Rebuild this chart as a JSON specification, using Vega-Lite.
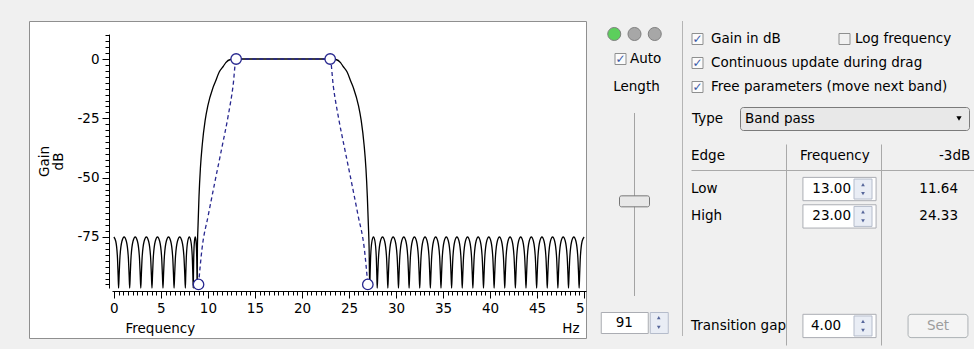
{
"$schema":"https://vega.github.io/schema/vega-lite/v6.json",
"background":"#f0f0f0",
"padding":{"left":28,"top":20,"right":1,"bottom":8},
"spacing":7,
"config":{
 "font":"DejaVu Sans",
 "view":{"stroke":null},
 "text":{"fontSize":13.5,"color":"#000000"},
 "axis":{"labelFontSize":13.5,"titleFontSize":13.5,"titleFontWeight":"normal","labelColor":"#000000","titleColor":"#000000","domainColor":"#000000","tickColor":"#000000","grid":false}
},
"datasets":{
 "response":[
  {"hz":0,"db":-75},{"hz":0.2,"db":-76.8},{"hz":0.38,"db":-83.7},{"hz":0.45,"db":-91.1},{"hz":0.5,"db":-120},
  {"hz":0.559,"db":-91.1},{"hz":0.642,"db":-83.7},{"hz":0.854,"db":-76.8},{"hz":1.09,"db":-75},{"hz":1.326,"db":-76.8},{"hz":1.538,"db":-83.7},{"hz":1.621,"db":-91.1},{"hz":1.68,"db":-120},
  {"hz":1.739,"db":-91.1},{"hz":1.822,"db":-83.7},{"hz":2.034,"db":-76.8},{"hz":2.27,"db":-75},{"hz":2.506,"db":-76.8},{"hz":2.718,"db":-83.7},{"hz":2.801,"db":-91.1},{"hz":2.86,"db":-120},
  {"hz":2.92,"db":-91.1},{"hz":3.003,"db":-83.7},{"hz":3.217,"db":-76.8},{"hz":3.455,"db":-75},{"hz":3.693,"db":-76.8},{"hz":3.907,"db":-83.7},{"hz":3.99,"db":-91.1},{"hz":4.05,"db":-120},
  {"hz":4.109,"db":-91.1},{"hz":4.19,"db":-83.7},{"hz":4.401,"db":-76.8},{"hz":4.635,"db":-75},{"hz":4.869,"db":-76.8},{"hz":5.08,"db":-83.7},{"hz":5.162,"db":-91.1},{"hz":5.22,"db":-120},
  {"hz":5.279,"db":-91.1},{"hz":5.362,"db":-83.7},{"hz":5.574,"db":-76.8},{"hz":5.81,"db":-75},{"hz":6.046,"db":-76.8},{"hz":6.258,"db":-83.7},{"hz":6.341,"db":-91.1},{"hz":6.4,"db":-120},
  {"hz":6.46,"db":-91.1},{"hz":6.544,"db":-83.7},{"hz":6.76,"db":-76.8},{"hz":7.0,"db":-75},{"hz":7.24,"db":-76.8},{"hz":7.456,"db":-83.7},{"hz":7.54,"db":-91.1},{"hz":7.6,"db":-120},
  {"hz":7.642,"db":-91.1},{"hz":7.701,"db":-83.7},{"hz":7.852,"db":-76.8},{"hz":8.02,"db":-75},{"hz":8.188,"db":-76.8},{"hz":8.339,"db":-83.7},{"hz":8.398,"db":-91.1},{"hz":8.44,"db":-120},
  {"hz":8.461,"db":-91.1},{"hz":8.49,"db":-83.7},{"hz":8.566,"db":-76.8},{"hz":8.65,"db":-75},{"hz":8.734,"db":-76.8},{"hz":8.81,"db":-83.7},{"hz":8.839,"db":-91.1},{"hz":8.86,"db":-120},
  {"hz":8.88,"db":-80},{"hz":8.95,"db":-70},{"hz":9.05,"db":-58},{"hz":9.2,"db":-46},{"hz":9.4,"db":-36},{"hz":9.7,"db":-26},{"hz":10.0,"db":-19.5},{"hz":10.5,"db":-12.5},{"hz":10.8,"db":-9.5},{"hz":11.2,"db":-5.5},{"hz":11.65,"db":-3.0},{"hz":11.9,"db":-1.5},{"hz":12.4,"db":-0.2},{"hz":13.0,"db":0},
  {"hz":15.5,"db":0},{"hz":18,"db":0},{"hz":20.5,"db":0},
  {"hz":23.0,"db":0},{"hz":23.6,"db":-0.2},{"hz":24.1,"db":-1.5},{"hz":24.35,"db":-3.0},{"hz":24.8,"db":-5.5},{"hz":25.2,"db":-9.5},{"hz":25.5,"db":-12.5},{"hz":26.0,"db":-19.5},{"hz":26.3,"db":-26},{"hz":26.6,"db":-36},{"hz":26.8,"db":-46},{"hz":26.95,"db":-58},{"hz":27.06,"db":-70},{"hz":27.14,"db":-80},{"hz":27.2,"db":-120},
  {"hz":27.24,"db":-91.1},{"hz":27.296,"db":-83.7},{"hz":27.44,"db":-76.8},{"hz":27.6,"db":-75},{"hz":27.76,"db":-76.8},{"hz":27.904,"db":-83.7},{"hz":27.96,"db":-91.1},{"hz":28.0,"db":-120},
  {"hz":28.057,"db":-91.1},{"hz":28.136,"db":-83.7},{"hz":28.339,"db":-76.8},{"hz":28.565,"db":-75},{"hz":28.791,"db":-76.8},{"hz":28.994,"db":-83.7},{"hz":29.074,"db":-91.1},{"hz":29.13,"db":-120},
  {"hz":29.187,"db":-91.1},{"hz":29.266,"db":-83.7},{"hz":29.469,"db":-76.8},{"hz":29.695,"db":-75},{"hz":29.921,"db":-76.8},{"hz":30.124,"db":-83.7},{"hz":30.204,"db":-91.1},{"hz":30.26,"db":-120},
  {"hz":30.317,"db":-91.1},{"hz":30.396,"db":-83.7},{"hz":30.599,"db":-76.8},{"hz":30.825,"db":-75},{"hz":31.051,"db":-76.8},{"hz":31.254,"db":-83.7},{"hz":31.334,"db":-91.1},{"hz":31.39,"db":-120},
  {"hz":31.447,"db":-91.1},{"hz":31.526,"db":-83.7},{"hz":31.729,"db":-76.8},{"hz":31.955,"db":-75},{"hz":32.181,"db":-76.8},{"hz":32.384,"db":-83.7},{"hz":32.464,"db":-91.1},{"hz":32.52,"db":-120},
  {"hz":32.577,"db":-91.1},{"hz":32.656,"db":-83.7},{"hz":32.859,"db":-76.8},{"hz":33.085,"db":-75},{"hz":33.311,"db":-76.8},{"hz":33.514,"db":-83.7},{"hz":33.594,"db":-91.1},{"hz":33.65,"db":-120},
  {"hz":33.707,"db":-91.1},{"hz":33.786,"db":-83.7},{"hz":33.989,"db":-76.8},{"hz":34.215,"db":-75},{"hz":34.441,"db":-76.8},{"hz":34.644,"db":-83.7},{"hz":34.724,"db":-91.1},{"hz":34.78,"db":-120},
  {"hz":34.837,"db":-91.1},{"hz":34.916,"db":-83.7},{"hz":35.119,"db":-76.8},{"hz":35.345,"db":-75},{"hz":35.571,"db":-76.8},{"hz":35.774,"db":-83.7},{"hz":35.854,"db":-91.1},{"hz":35.91,"db":-120},
  {"hz":35.967,"db":-91.1},{"hz":36.046,"db":-83.7},{"hz":36.249,"db":-76.8},{"hz":36.475,"db":-75},{"hz":36.701,"db":-76.8},{"hz":36.904,"db":-83.7},{"hz":36.984,"db":-91.1},{"hz":37.04,"db":-120},
  {"hz":37.097,"db":-91.1},{"hz":37.176,"db":-83.7},{"hz":37.379,"db":-76.8},{"hz":37.605,"db":-75},{"hz":37.831,"db":-76.8},{"hz":38.034,"db":-83.7},{"hz":38.114,"db":-91.1},{"hz":38.17,"db":-120},
  {"hz":38.227,"db":-91.1},{"hz":38.306,"db":-83.7},{"hz":38.509,"db":-76.8},{"hz":38.735,"db":-75},{"hz":38.961,"db":-76.8},{"hz":39.164,"db":-83.7},{"hz":39.244,"db":-91.1},{"hz":39.3,"db":-120},
  {"hz":39.357,"db":-91.1},{"hz":39.436,"db":-83.7},{"hz":39.639,"db":-76.8},{"hz":39.865,"db":-75},{"hz":40.091,"db":-76.8},{"hz":40.294,"db":-83.7},{"hz":40.374,"db":-91.1},{"hz":40.43,"db":-120},
  {"hz":40.487,"db":-91.1},{"hz":40.566,"db":-83.7},{"hz":40.769,"db":-76.8},{"hz":40.995,"db":-75},{"hz":41.221,"db":-76.8},{"hz":41.424,"db":-83.7},{"hz":41.504,"db":-91.1},{"hz":41.56,"db":-120},
  {"hz":41.617,"db":-91.1},{"hz":41.696,"db":-83.7},{"hz":41.899,"db":-76.8},{"hz":42.125,"db":-75},{"hz":42.351,"db":-76.8},{"hz":42.554,"db":-83.7},{"hz":42.634,"db":-91.1},{"hz":42.69,"db":-120},
  {"hz":42.747,"db":-91.1},{"hz":42.826,"db":-83.7},{"hz":43.029,"db":-76.8},{"hz":43.255,"db":-75},{"hz":43.481,"db":-76.8},{"hz":43.684,"db":-83.7},{"hz":43.764,"db":-91.1},{"hz":43.82,"db":-120},
  {"hz":43.877,"db":-91.1},{"hz":43.956,"db":-83.7},{"hz":44.159,"db":-76.8},{"hz":44.385,"db":-75},{"hz":44.611,"db":-76.8},{"hz":44.814,"db":-83.7},{"hz":44.894,"db":-91.1},{"hz":44.95,"db":-120},
  {"hz":45.007,"db":-91.1},{"hz":45.086,"db":-83.7},{"hz":45.289,"db":-76.8},{"hz":45.515,"db":-75},{"hz":45.741,"db":-76.8},{"hz":45.944,"db":-83.7},{"hz":46.024,"db":-91.1},{"hz":46.08,"db":-120},
  {"hz":46.137,"db":-91.1},{"hz":46.216,"db":-83.7},{"hz":46.419,"db":-76.8},{"hz":46.645,"db":-75},{"hz":46.871,"db":-76.8},{"hz":47.074,"db":-83.7},{"hz":47.154,"db":-91.1},{"hz":47.21,"db":-120},
  {"hz":47.267,"db":-91.1},{"hz":47.346,"db":-83.7},{"hz":47.549,"db":-76.8},{"hz":47.775,"db":-75},{"hz":48.001,"db":-76.8},{"hz":48.204,"db":-83.7},{"hz":48.284,"db":-91.1},{"hz":48.34,"db":-120},
  {"hz":48.397,"db":-91.1},{"hz":48.476,"db":-83.7},{"hz":48.679,"db":-76.8},{"hz":48.905,"db":-75},{"hz":49.131,"db":-76.8},{"hz":49.334,"db":-83.7},{"hz":49.414,"db":-91.1},{"hz":49.47,"db":-120},
  {"hz":49.523,"db":-91.1},{"hz":49.597,"db":-83.7},{"hz":49.788,"db":-76.8},{"hz":50.0,"db":-75}
 ],
 "design":[
  {"hz":9,"db":-95},{"hz":9.37,"db":-80},{"hz":10.03,"db":-66},{"hz":10.73,"db":-52},{"hz":11.45,"db":-38},{"hz":12.15,"db":-24},{"hz":12.67,"db":-11.4},{"hz":13,"db":0},
  {"hz":18,"db":0},
  {"hz":23,"db":0},{"hz":23.33,"db":-11.4},{"hz":23.85,"db":-24},{"hz":24.55,"db":-38},{"hz":25.27,"db":-52},{"hz":25.97,"db":-66},{"hz":26.63,"db":-80},{"hz":27,"db":-95}
 ],
 "breakpoints":[{"hz":9,"db":-95},{"hz":13,"db":0},{"hz":23,"db":0},{"hz":27,"db":-95}],
 "leds":[{"led":"1","state":"on"},{"led":"2","state":"off"},{"led":"3","state":"off"}],
 "length":[{"length":91,"auto":true,"min":1,"max":175}],
 "spin":[{"dir":"up"},{"dir":"down"}],
 "settings":[
  {"setting":"Gain in dB","checked":true},
  {"setting":"Log frequency","checked":false},
  {"setting":"Continuous update during drag","checked":true},
  {"setting":"Free parameters (move next band)","checked":true}
 ],
 "filter":[{"type":"Band pass","transitionGap":4}],
 "edges":[{"edge":"Low","frequency":13,"minus3dB":11.64},{"edge":"High","frequency":23,"minus3dB":24.33}]
},
"hconcat":[
 {
  "width":557,"height":317,
  "view":{"fill":"#ffffff","stroke":"#8f8f8f"},
  "layer":[
   {"data":{"name":"response"},
    "mark":{"type":"line","color":"#000000","strokeWidth":1.3,"interpolate":"monotone","clip":true},
    "encoding":{
     "x":{"field":"hz","type":"quantitative","scale":{"domain":[-0.2,50.2],"range":[83,557],"nice":false,"zero":false},
      "axis":{"orient":"bottom","offset":-47,"values":[0,5,10,15,20,25,30,35,40,45,50],"tickSize":7,"labelPadding":3,"labelFlush":false,"labelOverlap":false,"labelExpr":"datum.value == 50 ? '5' : datum.label",
       "labelAlign":{"condition":{"test":"datum.value == 50","value":"right"},"value":"center"},
       "title":"Frequency","titleAlign":"left","titleBaseline":"alphabetic","titleX":96,"titleY":41}},
     "y":{"field":"db","type":"quantitative","scale":{"domain":[-96.5,10.5],"range":[267,13.1],"nice":false,"zero":false,"clamp":true},
      "axis":{"orient":"left","offset":-80,"values":[-75,-50,-25,0],"tickSize":7,"labelPadding":3,"labelOverlap":false,"labelExpr":"datum.value + ''","title":["Gain","dB"],"titleAngle":-90,"titleBaseline":"top","titleAlign":"center","titleX":-72,"titleY":140,"titleLineHeight":14}}
    }},
   {"data":{"name":"design"},
    "mark":{"type":"line","color":"#27278f","strokeWidth":1.3,"strokeDash":[4,3],"interpolate":"monotone","clip":true},
    "encoding":{
     "x":{"field":"hz","type":"quantitative","scale":{"domain":[-0.2,50.2],"range":[83,557],"nice":false,"zero":false},
      "axis":{"orient":"bottom","offset":-47,"values":[0,0.5,1,1.5,2,2.5,3,3.5,4,4.5,5,5.5,6,6.5,7,7.5,8,8.5,9,9.5,10,10.5,11,11.5,12,12.5,13,13.5,14,14.5,15,15.5,16,16.5,17,17.5,18,18.5,19,19.5,20,20.5,21,21.5,22,22.5,23,23.5,24,24.5,25,25.5,26,26.5,27,27.5,28,28.5,29,29.5,30,30.5,31,31.5,32,32.5,33,33.5,34,34.5,35,35.5,36,36.5,37,37.5,38,38.5,39,39.5,40,40.5,41,41.5,42,42.5,43,43.5,44,44.5,45,45.5,46,46.5,47,47.5,48,48.5,49,49.5,50],"tickSize":4,"labels":false,"domain":false,"title":"Hz","titleAlign":"right","titleBaseline":"alphabetic","titleX":550,"titleY":41}},
     "y":{"field":"db","type":"quantitative","scale":{"domain":[-96.5,10.5],"range":[267,13.1],"nice":false,"zero":false,"clamp":true},
      "axis":{"orient":"left","offset":-80,"values":[-95,-92.5,-90,-87.5,-85,-82.5,-80,-77.5,-75,-72.5,-70,-67.5,-65,-62.5,-60,-57.5,-55,-52.5,-50,-47.5,-45,-42.5,-40,-37.5,-35,-32.5,-30,-27.5,-25,-22.5,-20,-17.5,-15,-12.5,-10,-7.5,-5,-2.5,0,2.5,5,7.5,10],"tickSize":4,"labels":false,"domain":false,"title":null}}
    }},
   {"data":{"name":"breakpoints"},
    "mark":{"type":"point","filled":true,"fill":"#ffffff","stroke":"#27278f","strokeWidth":1.3,"size":110,"opacity":1},
    "encoding":{
     "x":{"field":"hz","type":"quantitative","scale":{"domain":[-0.2,50.2],"range":[83,557],"nice":false,"zero":false},"axis":null},
     "y":{"field":"db","type":"quantitative","scale":{"domain":[-96.5,10.5],"range":[267,13.1],"nice":false,"zero":false,"clamp":true},"axis":null}
    }}
  ],
  "resolve":{"axis":{"x":"independent","y":"independent"}}
 },
 {
  "vconcat":[
   {"width":81,"height":26,"data":{"name":"leds"},
    "mark":{"type":"point","filled":true,"size":170,"stroke":"#808080","strokeWidth":1,"opacity":1},
    "encoding":{
     "x":{"field":"led","type":"ordinal","scale":{"type":"point","padding":1.7},"axis":null},
     "color":{"field":"state","type":"nominal","scale":{"domain":["on","off"],"range":["#5ccf5c","#a7a7a7"]},"legend":null}
    }},
   {"width":81,"height":16,"data":{"name":"length"},
    "layer":[
     {"mark":{"type":"point","shape":"square","filled":true,"fill":"#fbfbfb","stroke":"#8e8f8f","strokeWidth":1,"size":121,"opacity":1,"xOffset":-14},"encoding":{}},
     {"mark":{"type":"text","text":"✓","color":"#3a5aa8","fontSize":12,"fontWeight":"bold","dx":-14},"encoding":{"opacity":{"condition":{"test":"datum.auto","value":1},"value":0}}},
     {"mark":{"type":"text","align":"left","dx":-4.5},"encoding":{"text":{"value":"Auto"}}}
    ]},
   {"width":81,"height":32,"data":{"name":"length"},"mark":{"type":"text","dx":2},"encoding":{"text":{"value":"Length"}}},
   {"width":81,"height":200,"data":{"name":"length"},
    "layer":[
     {"mark":{"type":"rule","color":"#a3a3a3","strokeWidth":1},
      "encoding":{"y":{"field":"min","type":"quantitative","scale":{"domain":[-9.46,180.7],"nice":false,"zero":false},"axis":null},"y2":{"field":"max"}}},
     {"mark":{"type":"tick","thickness":11,"size":30,"color":"#e8e8e8","stroke":"#767676","strokeWidth":1,"cornerRadius":2,"opacity":1},
      "encoding":{"y":{"field":"length","type":"quantitative","scale":{"domain":[-9.46,180.7],"nice":false,"zero":false},"axis":null}}}
    ]},
   {"hconcat":[
     {"width":47,"height":21,"view":{"fill":"#ffffff","stroke":"#abadb3"},"data":{"name":"length"},"mark":{"type":"text"},"encoding":{"text":{"field":"length"}}},
     {"width":18,"height":21,"view":{"fill":"#e9edf5","stroke":"#b5bccb"},"data":{"name":"spin"},
      "mark":{"type":"point","filled":true,"size":14,"color":"#56669a","opacity":1},
      "encoding":{
       "y":{"field":"dir","type":"nominal","scale":{"type":"point","domain":["up","down"],"padding":0.6},"axis":null},
       "shape":{"field":"dir","type":"nominal","scale":{"domain":["up","down"],"range":["triangle-up","triangle-down"]},"legend":null}
      }}
    ],"spacing":0}
  ],
  "spacing":4,"center":true
 },
 {"width":1,"height":315,"view":{"fill":"#b4b4b4","stroke":null},"data":{"values":[{}]},"mark":{"type":"point","opacity":0,"size":0},"encoding":{}},
 {
  "vconcat":[
   {"vconcat":[
     {"width":285,"height":84,"data":{"name":"settings"},
      "layer":[
       {"transform":[{"filter":"datum.setting !== 'Log frequency'"}],
        "mark":{"type":"point","shape":"square","filled":true,"fill":"#fbfbfb","stroke":"#8e8f8f","strokeWidth":1,"size":121,"opacity":1,"xOffset":-136},
        "encoding":{"y":{"field":"setting","type":"nominal","scale":{"type":"point","domain":["Gain in dB","Continuous update during drag","Free parameters (move next band)"],"padding":0.75},"axis":null}}},
       {"transform":[{"filter":"datum.setting !== 'Log frequency'"}],
        "mark":{"type":"text","text":"✓","color":"#3a5aa8","fontSize":12,"fontWeight":"bold","dx":-136},
        "encoding":{"y":{"field":"setting","type":"nominal","scale":{"type":"point","domain":["Gain in dB","Continuous update during drag","Free parameters (move next band)"],"padding":0.75},"axis":null},
         "opacity":{"condition":{"test":"datum.checked","value":1},"value":0}}},
       {"transform":[{"filter":"datum.setting !== 'Log frequency'"}],
        "mark":{"type":"text","align":"left","dx":-122.5},
        "encoding":{"y":{"field":"setting","type":"nominal","scale":{"type":"point","domain":["Gain in dB","Continuous update during drag","Free parameters (move next band)"],"padding":0.75},"axis":null},
         "text":{"field":"setting"}}},
       {"transform":[{"filter":"datum.setting === 'Log frequency'"}],
        "mark":{"type":"point","shape":"square","filled":true,"fill":"#f1f1f1","stroke":"#8e8f8f","strokeWidth":1,"size":121,"opacity":1,"xOffset":11},
        "encoding":{"y":{"datum":"Gain in dB","type":"nominal","scale":{"type":"point","domain":["Gain in dB","Continuous update during drag","Free parameters (move next band)"],"padding":0.75},"axis":null}}},
       {"transform":[{"filter":"datum.setting === 'Log frequency'"}],
        "mark":{"type":"text","align":"left","dx":21.5},
        "encoding":{"y":{"datum":"Gain in dB","type":"nominal","scale":{"type":"point","domain":["Gain in dB","Continuous update during drag","Free parameters (move next band)"],"padding":0.75},"axis":null},
         "text":{"field":"setting"}}}
      ]},
     {"hconcat":[
       {"width":48,"height":23,"data":{"name":"filter"},"mark":{"type":"text","align":"left","dx":-23},"encoding":{"text":{"value":"Type"}}},
       {"width":229,"height":23,"view":{"fill":"#e8e8e8","stroke":"#7b7b7b","cornerRadius":3},"data":{"name":"filter"},
        "layer":[
         {"mark":{"type":"text","align":"left","dx":-109.5},"encoding":{"text":{"field":"type"}}},
         {"mark":{"type":"point","shape":"triangle-down","filled":true,"color":"#000000","size":28,"opacity":1,"xOffset":104.5},"encoding":{}}
        ]}
      ],"spacing":0}
    ],"spacing":1},
   {"width":285,"height":175,
    "layer":[
     {"data":{"name":"edges"},
      "mark":{"type":"text","align":"left"},
      "encoding":{
       "x":{"datum":"Edge","type":"nominal","bandPosition":0,"scale":{"type":"band","domain":["Edge","Frequency","-3dB"],"paddingInner":0,"paddingOuter":0},
        "axis":{"orient":"top","bandPosition":0,"grid":true,"gridColor":"#a9a9a9","domainColor":"#a9a9a9","tickColor":"#a9a9a9","tickSize":26,"labelAngle":0,"labelAlign":"left","labelBaseline":"bottom","labelPadding":-18,
         "labelOffset":{"condition":[{"test":"datum.value === 'Edge'","value":-47.5},{"test":"datum.value === 'Frequency'","value":-33.5}],"value":10.5},
         "tickOpacity":{"condition":{"test":"datum.value === 'Edge'","value":0},"value":1},
         "gridOpacity":{"condition":{"test":"datum.value === 'Edge'","value":0},"value":1},
         "title":null}},
       "y":{"field":"edge","type":"nominal","scale":{"type":"band","domain":["Low","High"," ","  ","   ","Transition gap"],"paddingInner":0.15,"paddingOuter":0.27},"axis":null},
       "text":{"field":"edge"}
      }},
     {"data":{"name":"edges"},
      "mark":{"type":"bar","fill":"#ffffff","stroke":"#abadb3","strokeWidth":1,"width":{"band":0.77},"xOffset":6},
      "encoding":{
       "x":{"datum":"Frequency","type":"nominal","scale":{"type":"band","domain":["Edge","Frequency","-3dB"],"paddingInner":0,"paddingOuter":0}},
       "y":{"field":"edge","type":"nominal","scale":{"type":"band","domain":["Low","High"," ","  ","   ","Transition gap"],"paddingInner":0.15,"paddingOuter":0.27},"axis":null}
      }},
     {"data":{"name":"edges"},
      "mark":{"type":"point","shape":"M-0.9,-1H0.9V1H-0.9Z","filled":true,"fill":"#e9edf5","stroke":"#b5bccb","strokeWidth":1,"size":400,"opacity":1,"xOffset":29.5},
      "encoding":{
       "x":{"datum":"Frequency","type":"nominal","scale":{"type":"band","domain":["Edge","Frequency","-3dB"],"paddingInner":0,"paddingOuter":0}},
       "y":{"field":"edge","type":"nominal","scale":{"type":"band","domain":["Low","High"," ","  ","   ","Transition gap"],"paddingInner":0.15,"paddingOuter":0.27},"axis":null}
      }},
     {"data":{"name":"edges"},
      "mark":{"type":"point","shape":"triangle-up","filled":true,"color":"#56669a","size":14,"opacity":1,"xOffset":29.5,"yOffset":-4.5},
      "encoding":{
       "x":{"datum":"Frequency","type":"nominal","scale":{"type":"band","domain":["Edge","Frequency","-3dB"],"paddingInner":0,"paddingOuter":0}},
       "y":{"field":"edge","type":"nominal","scale":{"type":"band","domain":["Low","High"," ","  ","   ","Transition gap"],"paddingInner":0.15,"paddingOuter":0.27},"axis":null}
      }},
     {"data":{"name":"edges"},
      "mark":{"type":"point","shape":"triangle-down","filled":true,"color":"#56669a","size":14,"opacity":1,"xOffset":29.5,"yOffset":4.5},
      "encoding":{
       "x":{"datum":"Frequency","type":"nominal","scale":{"type":"band","domain":["Edge","Frequency","-3dB"],"paddingInner":0,"paddingOuter":0}},
       "y":{"field":"edge","type":"nominal","scale":{"type":"band","domain":["Low","High"," ","  ","   ","Transition gap"],"paddingInner":0.15,"paddingOuter":0.27},"axis":null}
      }},
     {"data":{"name":"edges"},
      "mark":{"type":"text","align":"right","dx":17.5},
      "encoding":{
       "x":{"datum":"Frequency","type":"nominal","scale":{"type":"band","domain":["Edge","Frequency","-3dB"],"paddingInner":0,"paddingOuter":0}},
       "y":{"field":"edge","type":"nominal","scale":{"type":"band","domain":["Low","High"," ","  ","   ","Transition gap"],"paddingInner":0.15,"paddingOuter":0.27},"axis":null},
       "text":{"field":"frequency","format":".2f"}
      }},
     {"data":{"name":"edges"},
      "mark":{"type":"text","align":"right","dx":-18},
      "encoding":{
       "x":{"datum":"-3dB","type":"nominal","bandPosition":1,"scale":{"type":"band","domain":["Edge","Frequency","-3dB"],"paddingInner":0,"paddingOuter":0}},
       "y":{"field":"edge","type":"nominal","scale":{"type":"band","domain":["Low","High"," ","  ","   ","Transition gap"],"paddingInner":0.15,"paddingOuter":0.27},"axis":null},
       "text":{"field":"minus3dB","format":".2f"}
      }},
     {"data":{"name":"filter"},
      "mark":{"type":"text","align":"left"},
      "encoding":{
       "x":{"datum":"Edge","type":"nominal","bandPosition":0,"scale":{"type":"band","domain":["Edge","Frequency","-3dB"],"paddingInner":0,"paddingOuter":0}},
       "y":{"datum":"Transition gap","type":"nominal","scale":{"type":"band","domain":["Low","High"," ","  ","   ","Transition gap"],"paddingInner":0.15,"paddingOuter":0.27},"axis":null},
       "text":{"value":"Transition gap"}
      }},
     {"data":{"name":"filter"},
      "mark":{"type":"bar","fill":"#ffffff","stroke":"#abadb3","strokeWidth":1,"width":{"band":0.77},"xOffset":6},
      "encoding":{
       "x":{"datum":"Frequency","type":"nominal","scale":{"type":"band","domain":["Edge","Frequency","-3dB"],"paddingInner":0,"paddingOuter":0}},
       "y":{"datum":"Transition gap","type":"nominal","scale":{"type":"band","domain":["Low","High"," ","  ","   ","Transition gap"],"paddingInner":0.15,"paddingOuter":0.27},"axis":null}
      }},
     {"data":{"name":"filter"},
      "mark":{"type":"point","shape":"M-0.9,-1H0.9V1H-0.9Z","filled":true,"fill":"#e9edf5","stroke":"#b5bccb","strokeWidth":1,"size":400,"opacity":1,"xOffset":29.5},
      "encoding":{
       "x":{"datum":"Frequency","type":"nominal","scale":{"type":"band","domain":["Edge","Frequency","-3dB"],"paddingInner":0,"paddingOuter":0}},
       "y":{"datum":"Transition gap","type":"nominal","scale":{"type":"band","domain":["Low","High"," ","  ","   ","Transition gap"],"paddingInner":0.15,"paddingOuter":0.27},"axis":null}
      }},
     {"data":{"name":"filter"},
      "mark":{"type":"point","shape":"triangle-up","filled":true,"color":"#56669a","size":14,"opacity":1,"xOffset":29.5,"yOffset":-4.5},
      "encoding":{
       "x":{"datum":"Frequency","type":"nominal","scale":{"type":"band","domain":["Edge","Frequency","-3dB"],"paddingInner":0,"paddingOuter":0}},
       "y":{"datum":"Transition gap","type":"nominal","scale":{"type":"band","domain":["Low","High"," ","  ","   ","Transition gap"],"paddingInner":0.15,"paddingOuter":0.27},"axis":null}
      }},
     {"data":{"name":"filter"},
      "mark":{"type":"point","shape":"triangle-down","filled":true,"color":"#56669a","size":14,"opacity":1,"xOffset":29.5,"yOffset":4.5},
      "encoding":{
       "x":{"datum":"Frequency","type":"nominal","scale":{"type":"band","domain":["Edge","Frequency","-3dB"],"paddingInner":0,"paddingOuter":0}},
       "y":{"datum":"Transition gap","type":"nominal","scale":{"type":"band","domain":["Low","High"," ","  ","   ","Transition gap"],"paddingInner":0.15,"paddingOuter":0.27},"axis":null}
      }},
     {"data":{"name":"filter"},
      "mark":{"type":"text","align":"left","dx":-22.5},
      "encoding":{
       "x":{"datum":"Frequency","type":"nominal","scale":{"type":"band","domain":["Edge","Frequency","-3dB"],"paddingInner":0,"paddingOuter":0}},
       "y":{"datum":"Transition gap","type":"nominal","scale":{"type":"band","domain":["Low","High"," ","  ","   ","Transition gap"],"paddingInner":0.15,"paddingOuter":0.27},"axis":null},
       "text":{"field":"transitionGap","format":".2f"}
      }},
     {"data":{"name":"filter"},
      "mark":{"type":"bar","fill":"#f4f4f4","stroke":"#adb2b5","strokeWidth":1,"cornerRadius":3,"width":{"band":0.63},"xOffset":9.5},
      "encoding":{
       "x":{"datum":"-3dB","type":"nominal","scale":{"type":"band","domain":["Edge","Frequency","-3dB"],"paddingInner":0,"paddingOuter":0}},
       "y":{"datum":"Transition gap","type":"nominal","scale":{"type":"band","domain":["Low","High"," ","  ","   ","Transition gap"],"paddingInner":0.15,"paddingOuter":0.27},"axis":null}
      }},
     {"data":{"name":"filter"},
      "mark":{"type":"text","color":"#9d9d9d","dx":9.5},
      "encoding":{
       "x":{"datum":"-3dB","type":"nominal","scale":{"type":"band","domain":["Edge","Frequency","-3dB"],"paddingInner":0,"paddingOuter":0}},
       "y":{"datum":"Transition gap","type":"nominal","scale":{"type":"band","domain":["Low","High"," ","  ","   ","Transition gap"],"paddingInner":0.15,"paddingOuter":0.27},"axis":null},
       "text":{"value":"Set"}
      }}
    ]}
  ],
  "spacing":12
 }
]
}
